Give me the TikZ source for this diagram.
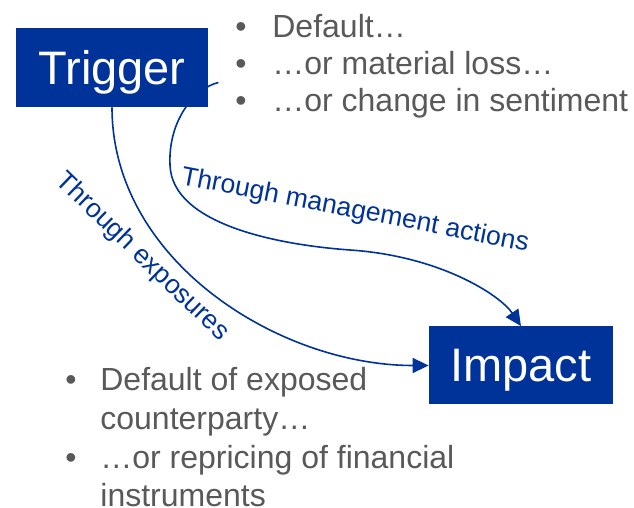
\documentclass[tikz,border=0pt]{standalone}
\usepackage{fontspec}
\setmainfont{Liberation Sans}
\usepackage{xcolor}
\usetikzlibrary{arrows.meta, backgrounds, positioning}
\definecolor{bankblue}{RGB}{0,51,153}
\definecolor{txtgrey}{RGB}{89,89,89}
\tikzset{
  % Graph arrow style
  garr/.style={
    line width = 0.8pt, draw=bankblue,
    -{Triangle[length=8pt,width=7.5pt]}
  },
}

\begin{document}
\begin{tikzpicture}
          [x=0.5pt, y=-0.5pt,
           blk/.style={fill=bankblue, text=white, inner sep=0pt, text depth=0pt,
                       font=\fontsize{23.5}{28}\selectfont},
           lbl/.style={text=bankblue, inner sep=0pt,
                       font=\fontsize{13.3}{16}\selectfont},
           bul/.style={text=txtgrey, inner sep=0pt, anchor=base west}
          ]
          \useasboundingbox (0,0) rectangle (634,508);

          \node (trig) [blk
                       , minimum width=96pt
                       , minimum height=39.5pt
                       ] at (112,67.5) {Trigger};
          \node (imp) [blk
                      , minimum width=92pt
                      , minimum height=39pt
                      ] at (521,365.5) {Impact};

          \node (cause) [bul] at (235,37.5)
                {\fontsize{16}{18.5}\selectfont
                 \begin{tabular}[t]{@{}p{18.5pt}@{}l@{}}
                   \textbullet & Default…\\
                   \textbullet & …or material loss…\\
                   \textbullet & …or change in sentiment
                 \end{tabular}};
          \node (effect) [bul] at (65,391)
                {\fontsize{16}{19.3}\selectfont
                 \begin{tabular}[t]{@{}p{17.5pt}@{}l@{}}
                   \textbullet & Default of exposed\\
                               & counterparty…\\
                   \textbullet & …or repricing of financial\\
                               & instruments
                 \end{tabular}};

          \node (lblexp) [lbl, rotate=-44] at (142,257) {Through exposures};
          \node (lblmgmt) [lbl, rotate=-11] at (355,211) {Through management actions};

          \begin{scope}[on background layer]
            \draw[garr] (trig.south) .. controls +(0,153) and +(-150,0) .. (imp.west);
            \draw[garr] ([shift={(10,15)}]trig.east)
                  .. controls (195,88) and (168,120) .. (170,165)
                  .. controls (172,225) and (280,245) .. (350,250)
                  .. controls (440,256) and (500,295) .. (imp.north);
          \end{scope}
      \end{tikzpicture}
\end{document}
